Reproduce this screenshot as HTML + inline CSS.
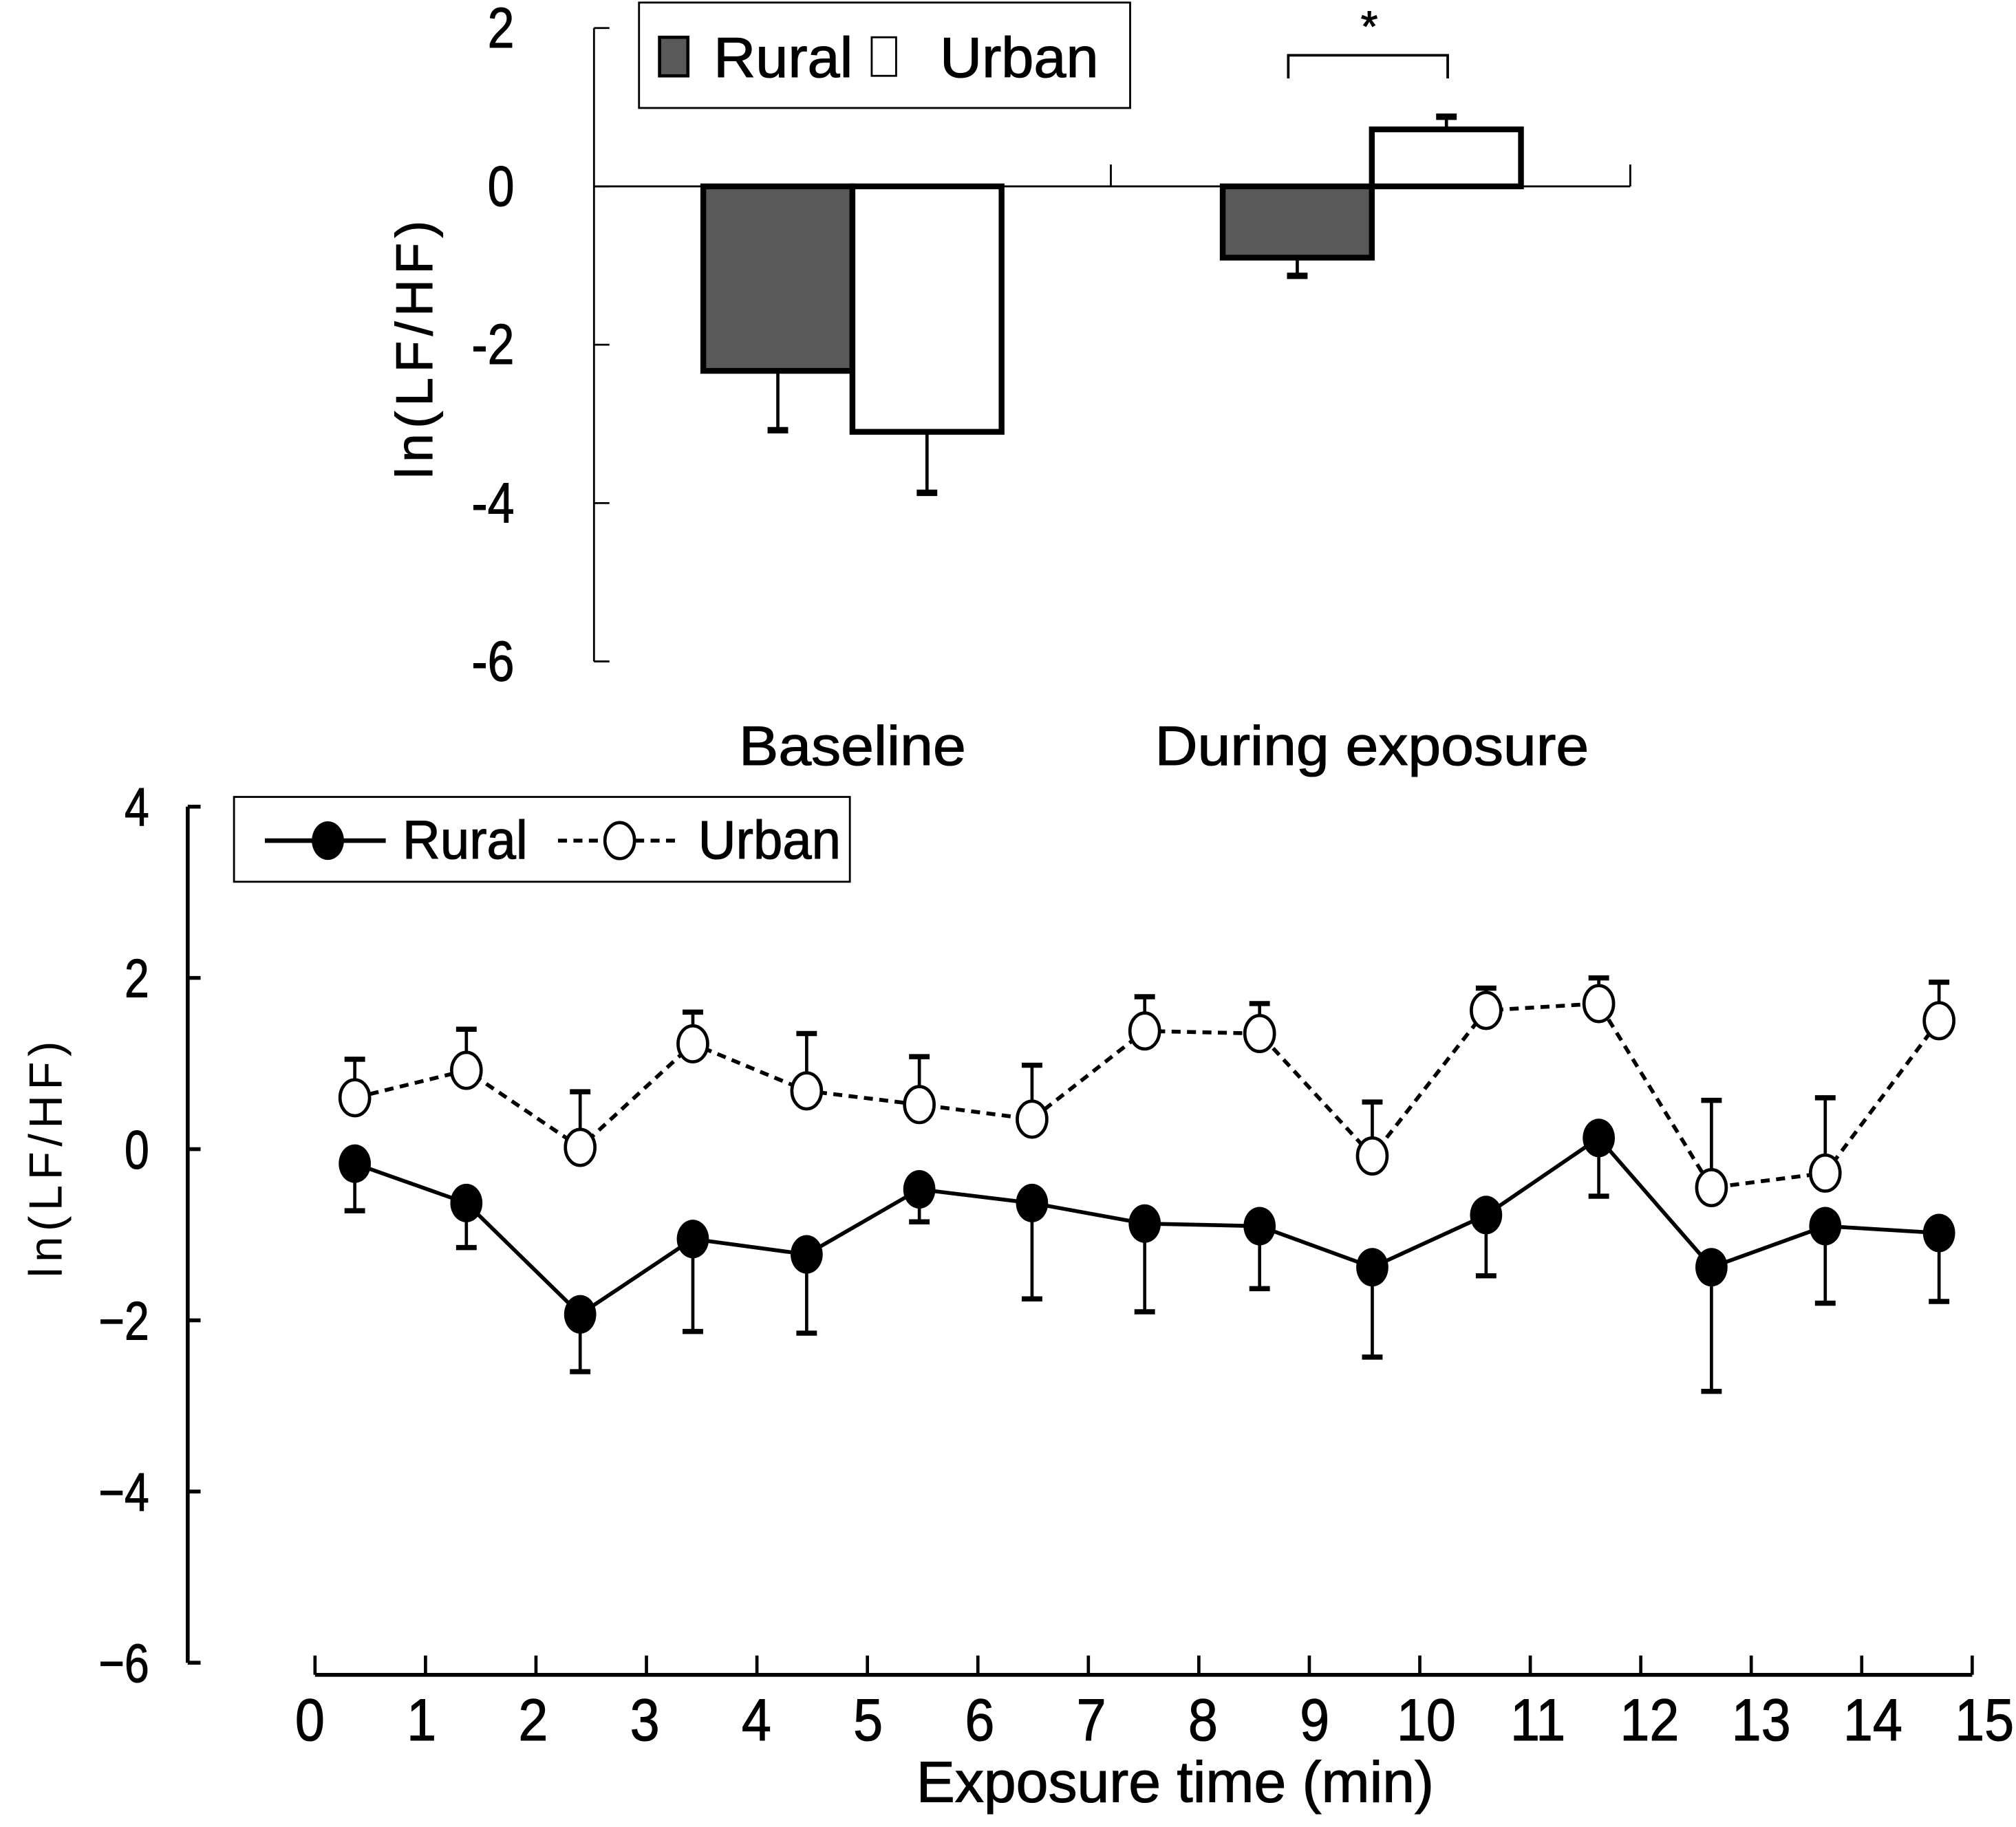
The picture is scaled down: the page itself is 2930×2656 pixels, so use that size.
<!DOCTYPE html>
<html><head><meta charset="utf-8"><style>
html,body{margin:0;padding:0;background:#fff;}
svg{display:block;}
text{font-family:"Liberation Sans",sans-serif;fill:#000;}
</style></head><body>
<svg id="fig" width="2930" height="2656" viewBox="0 0 1568 1421.4" xmlns="http://www.w3.org/2000/svg"></svg>
<script>
// ---- Top bar chart data ----
const barCategories = ["Baseline", "During exposure"];
const ruralBarValues = [-2.33, -0.9];
const ruralBarErrors = [-3.08, -1.13];
const urbanBarValues = [-3.1, 0.72];
const urbanBarErrors = [-3.87, 0.88];
const barTicks = [2, 0, -2, -4, -6];

// ---- Bottom line chart data ----
const timePoints = [0.36, 1.37, 2.4, 3.42, 4.45, 5.47, 6.49, 7.51, 8.55, 9.57, 10.6, 11.62, 12.64, 13.67, 14.7];
const ruralValues = [-0.17, -0.63, -1.93, -1.05, -1.23, -0.47, -0.63, -0.87, -0.9, -1.38, -0.77, 0.13, -1.38, -0.9, -0.98];
const ruralLower = [-0.72, -1.15, -2.6, -2.13, -2.15, -0.85, -1.75, -1.9, -1.63, -2.43, -1.48, -0.55, -2.83, -1.8, -1.78];
const urbanValues = [0.6, 0.92, 0.02, 1.23, 0.68, 0.52, 0.35, 1.38, 1.35, -0.08, 1.62, 1.7, -0.45, -0.28, 1.5];
const urbanUpper = [1.05, 1.4, 0.67, 1.6, 1.35, 1.08, 0.98, 1.78, 1.7, 0.55, 1.88, 2.0, 0.57, 0.6, 1.95];
const lineYTicks = [4, 2, 0, -2, -4, -6];
const lineXTicks = [0,1,2,3,4,5,6,7,8,9,10,11,12,13,14,15];

const NS = "http://www.w3.org/2000/svg";
const svg = document.getElementById('fig');
function mk(tag, attrs, parent) {
  const e = document.createElementNS(NS, tag);
  for (const k in attrs) e.setAttribute(k, attrs[k]);
  (parent || svg).appendChild(e);
  return e;
}
function txt(x, y, s, size, anchor, sx, parent) {
  const g = mk('g', {transform: `translate(${x},${y}) scale(${sx},1)`}, parent);
  const t = mk('text', {x: 0, y: 0, 'font-size': size, 'text-anchor': anchor, stroke: '#000', 'stroke-width': 0.6}, g);
  t.textContent = s;
  return g;
}

// ===== Top chart =====
const yTop = v => 145 - v * 61.6;
const catX = [663, 1067];
const topAxis = mk('g', {});


mk('line', {x1: 462, y1: yTop(2), x2: 462, y2: yTop(-6), stroke: '#000', 'stroke-width': 1.5}, topAxis);
barTicks.forEach(v => {
  mk('line', {x1: 462, y1: yTop(v), x2: 474, y2: yTop(v), stroke: '#000', 'stroke-width': 1.5}, topAxis);
  const g = txt(400, yTop(v) + 15, String(v), 44, 'end', 0.85, topAxis);
  
  
});
const zl = mk('line', {x1: 462, y1: yTop(0), x2: 1268, y2: yTop(0), stroke: '#000', 'stroke-width': 1.5});


[864, 1268].forEach(x => mk('line', {x1: x, y1: yTop(0) - 17, x2: x, y2: yTop(0), stroke: '#000', 'stroke-width': 1.5}));

const bw = 116;
function bar(cx, v, err, fill, name) {
  const y0 = yTop(0), y1 = yTop(v);
  const ex = cx + bw / 2;
  const eb = mk('g', {});
  
  
  mk('line', {x1: ex, y1: y1, x2: ex, y2: yTop(err), stroke: '#000', 'stroke-width': 2.5}, eb);
  mk('line', {x1: ex - 8, y1: yTop(err), x2: ex + 8, y2: yTop(err), stroke: '#000', 'stroke-width': 5}, eb);
  const r = mk('rect', {x: cx, y: Math.min(y0, y1), width: bw, height: Math.abs(y1 - y0), fill: fill, stroke: '#000', 'stroke-width': 4.5});
  
  
}
barCategories.forEach((c, i) => {
  bar(catX[i] - bw, ruralBarValues[i], ruralBarErrors[i], '#595959', 'bar-rural-' + i);
  bar(catX[i], urbanBarValues[i], urbanBarErrors[i], '#fff', 'bar-urban-' + i);
  const g = txt(catX[i], 595, c, 43, 'middle', 1.07);
  
  
});
// significance bracket
const br = mk('path', {d: 'M1002,61 V43 H1126 V61', fill: 'none', stroke: '#000', 'stroke-width': 2});


const ast = txt(1065, 32, '*', 34, 'middle', 1);


// top legend
const tl = mk('g', {});


mk('rect', {x: 497, y: 2, width: 382, height: 82, fill: '#fff', stroke: '#000', 'stroke-width': 1.5}, tl);
mk('rect', {x: 513, y: 29, width: 22, height: 30, fill: '#595959', stroke: '#000', 'stroke-width': 2.5}, tl);
txt(555, 60, 'Rural', 44, 'start', 1.03, tl);
mk('rect', {x: 678, y: 29, width: 19, height: 30, fill: '#fff', stroke: '#000', 'stroke-width': 1.5}, tl);
txt(731, 60, 'Urban', 44, 'start', 1.03, tl);
// top y title
const tyt = mk('text', {x: 0, y: 0, 'font-size': 40, 'text-anchor': 'middle', 'letter-spacing': 4, stroke: '#000', 'stroke-width': 0.6, transform: 'translate(336,270) rotate(-90)'});
tyt.textContent = 'ln(LF/HF)';



// ===== Bottom chart =====
const yB = v => 894 - v * 66.6;
const xB = t => 245 + t * 85.93;
const by = mk('g', {});


mk('line', {x1: 146, y1: yB(4), x2: 146, y2: yB(-6), stroke: '#000', 'stroke-width': 3}, by);
lineYTicks.forEach(v => {
  mk('line', {x1: 146, y1: yB(v), x2: 156, y2: yB(v), stroke: '#000', 'stroke-width': 3}, by);
  txt(116, yB(v) + 15, v < 0 ? '\u2212' + (-v) : String(v), 42, 'end', 0.82, by);
});
const bx = mk('g', {});


mk('line', {x1: xB(0), y1: 1303, x2: xB(15), y2: 1303, stroke: '#000', 'stroke-width': 3}, bx);
lineXTicks.forEach(t => {
  mk('line', {x1: xB(t), y1: 1303, x2: xB(t), y2: 1288, stroke: '#000', 'stroke-width': 2.5}, bx);
  txt(xB(t) - 4 + t * 0.9, 1354, String(t), 46, 'middle', 0.9, bx);
});
const xt = txt(914, 1402, 'Exposure time (min)', 45, 'middle', 1.0);


const byt = mk('text', {x: 0, y: 0, 'font-size': 36, 'text-anchor': 'middle', 'letter-spacing': 4, transform: 'translate(48,900) rotate(-90)'});
byt.textContent = 'ln(LF/HF)';



// error bars
timePoints.forEach((t, i) => {
  const e1 = mk('g', {});
  
  
  mk('line', {x1: xB(t), y1: yB(ruralValues[i]), x2: xB(t), y2: yB(ruralLower[i]), stroke: '#000', 'stroke-width': 2.5}, e1);
  mk('line', {x1: xB(t) - 8, y1: yB(ruralLower[i]), x2: xB(t) + 8, y2: yB(ruralLower[i]), stroke: '#000', 'stroke-width': 4}, e1);
  const e2 = mk('g', {});
  
  
  mk('line', {x1: xB(t), y1: yB(urbanValues[i]), x2: xB(t), y2: yB(urbanUpper[i]), stroke: '#000', 'stroke-width': 2.5}, e2);
  mk('line', {x1: xB(t) - 8, y1: yB(urbanUpper[i]), x2: xB(t) + 8, y2: yB(urbanUpper[i]), stroke: '#000', 'stroke-width': 4}, e2);
});
// lines
const rl = mk('polyline', {points: timePoints.map((t, i) => xB(t) + ',' + yB(ruralValues[i])).join(' '), fill: 'none', stroke: '#000', 'stroke-width': 3});


const ul = mk('polyline', {points: timePoints.map((t, i) => xB(t) + ',' + yB(urbanValues[i])).join(' '), fill: 'none', stroke: '#000', 'stroke-width': 3, 'stroke-dasharray': '7,5'});


timePoints.forEach((t, i) => {
  const p = mk('ellipse', {cx: xB(t), cy: yB(ruralValues[i]), rx: 12.5, ry: 15, fill: '#000'});
  
  
  const q = mk('ellipse', {cx: xB(t), cy: yB(urbanValues[i]), rx: 11.5, ry: 14, fill: '#fff', stroke: '#000', 'stroke-width': 2.5});
  
  
});
// bottom legend
const bl = mk('g', {});


mk('rect', {x: 182, y: 620, width: 479, height: 66, fill: '#fff', stroke: '#000', 'stroke-width': 1.5}, bl);
mk('line', {x1: 206, y1: 654, x2: 300, y2: 654, stroke: '#000', 'stroke-width': 3.5}, bl);
mk('ellipse', {cx: 255, cy: 654, rx: 12.5, ry: 15, fill: '#000'}, bl);
txt(313, 668, 'Rural', 42, 'start', 0.97, bl);
mk('line', {x1: 434, y1: 654, x2: 530, y2: 654, stroke: '#000', 'stroke-width': 3, 'stroke-dasharray': '7,5'}, bl);
mk('ellipse', {cx: 482, cy: 654, rx: 11.5, ry: 14, fill: '#fff', stroke: '#000', 'stroke-width': 2.5}, bl);
txt(543, 668, 'Urban', 42, 'start', 0.97, bl);
</script>
</body></html>
